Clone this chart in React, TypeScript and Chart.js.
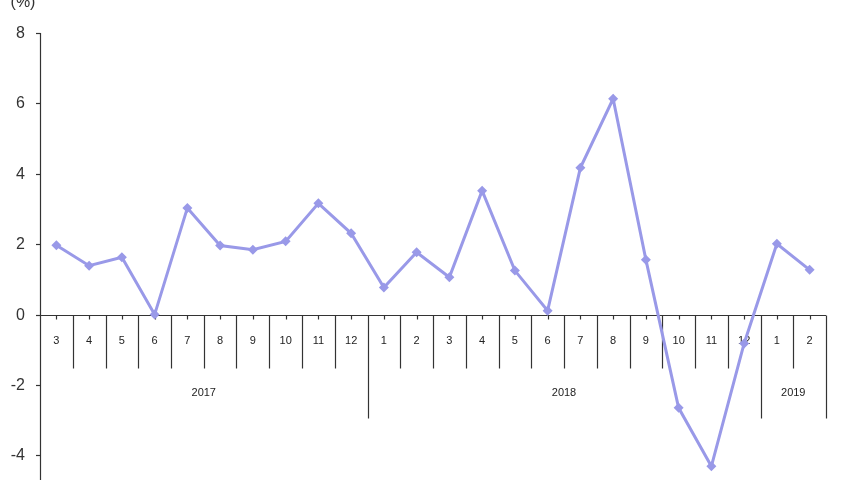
import React, { useEffect, useRef } from "react";
import { Chart, registerables } from "chart.js";

Chart.register(...registerables);

const months = ["3","4","5","6","7","8","9","10","11","12","1","2","3","4","5","6","7","8","9","10","11","12","1","2"];
const years = ["2017","2018","2019"];
const yearSpans = [10, 12, 2];
const values = [1.97, 1.39, 1.63, 0.0, 3.03, 1.96, 1.84, 2.08, 3.16, 2.31, 0.77, 1.77, 1.06, 3.52, 1.25, 0.11, 4.17, 6.13, 1.56, -2.65, -4.31, -0.82, 2.01, 1.27];
const yTicks = [8, 6, 4, 2, 0, -2, -4];
const unitLabel = "(%)";

const LINE = "rgb(153,153,232)";
const AXIS = "#333";
const FONT = "Arial, 'Liberation Sans', sans-serif";

const axisPlugin = {
  id: "customAxis",
  beforeDatasetsDraw(chart: any) {
    const { ctx, chartArea, scales } = chart;
    const x = scales.x;
    const y = scales.y;
    const y0 = Math.round(y.getPixelForValue(0)) + 0.5;
    const left = chartArea.left;
    const step = x.getPixelForValue(1) - x.getPixelForValue(0);
    const right = x.getPixelForValue(months.length - 1) + step / 2;
    ctx.save();
    ctx.strokeStyle = AXIS;
    ctx.lineWidth = 1.2;
    // y axis line
    ctx.beginPath();
    ctx.moveTo(left + 0.5, chartArea.top);
    ctx.lineTo(left + 0.5, chartArea.bottom);
    ctx.stroke();
    // y ticks and labels
    ctx.fillStyle = "#333";
    ctx.font = "16px " + FONT;
    ctx.textAlign = "right";
    ctx.textBaseline = "middle";
    yTicks.forEach((v) => {
      const py = Math.round(y.getPixelForValue(v)) + 0.5;
      ctx.beginPath();
      ctx.moveTo(left - 4, py);
      ctx.lineTo(left + 0.5, py);
      ctx.stroke();
      ctx.fillText(String(v), 25, py);
    });
    // x axis line
    ctx.beginPath();
    ctx.moveTo(left, y0);
    ctx.lineTo(right, y0);
    ctx.stroke();
    // boundaries
    const yearStarts: number[] = [];
    let acc = 0;
    yearSpans.forEach((s) => { yearStarts.push(acc); acc += s; });
    for (let i = 1; i <= months.length; i++) {
      const bx = Math.round(x.getPixelForValue(i) - step / 2) + 0.5;
      const isYear = yearStarts.includes(i) || i === months.length;
      ctx.beginPath();
      ctx.moveTo(bx, y0);
      ctx.lineTo(bx, y0 + (isYear ? 103 : 53));
      ctx.stroke();
    }
    // small center ticks
    for (let i = 0; i < months.length; i++) {
      const cx = Math.round(x.getPixelForValue(i)) + 0.5;
      ctx.beginPath();
      ctx.moveTo(cx, y0);
      ctx.lineTo(cx, y0 + 4);
      ctx.stroke();
    }
    // month labels
    ctx.fillStyle = "#222";
    ctx.font = "11px " + FONT;
    ctx.textAlign = "center";
    months.forEach((m, i) => {
      ctx.fillText(m, x.getPixelForValue(i), y0 + 25);
    });
    // year labels
    years.forEach((yr, k) => {
      const s = yearStarts[k];
      const e = s + yearSpans[k] - 1;
      const cx = (x.getPixelForValue(s) + x.getPixelForValue(e)) / 2;
      ctx.fillText(yr, cx, y0 + 77);
    });
    // unit label
    ctx.fillStyle = "#333";
    ctx.font = "16px " + FONT;
    ctx.fillText(unitLabel, 23, 3);
    ctx.restore();
  },
};

export default function App() {
  const ref = useRef<HTMLCanvasElement | null>(null);
  useEffect(() => {
    if (!ref.current) return;
    const chart = new Chart(ref.current, {
      type: "line",
      data: {
        labels: months,
        datasets: [
          {
            data: values,
            borderColor: LINE,
            backgroundColor: LINE,
            borderWidth: 3,
            pointStyle: "rectRot",
            pointRadius: 5,
            pointHoverRadius: 5,
            pointBorderWidth: 0,
            tension: 0,
            clip: false as any,
          },
        ],
      },
      options: {
        animation: false,
        responsive: false,
        maintainAspectRatio: false,
        layout: { autoPadding: false, padding: { top: 33, right: 34, bottom: 0, left: 0 } },
        plugins: { legend: { display: false }, tooltip: { enabled: false }, title: { display: false } },
        scales: {
          x: { type: "category", display: false, offset: true, grid: { display: false } },
          y: {
            min: -4.7,
            max: 8,
            afterFit(scale: any) { scale.width = 40; },
            border: { display: false },
            grid: { display: false, drawTicks: false },
            ticks: { display: false },
          },
        },
      },
      plugins: [axisPlugin],
    });
    return () => chart.destroy();
  }, []);
  return (
    <div style={{ position: "fixed", left: 0, top: 0, width: 860, height: 480, background: "#fff" }}>
      <canvas ref={ref} width={860} height={480} style={{ width: 860, height: 480 }} />
    </div>
  );
}
